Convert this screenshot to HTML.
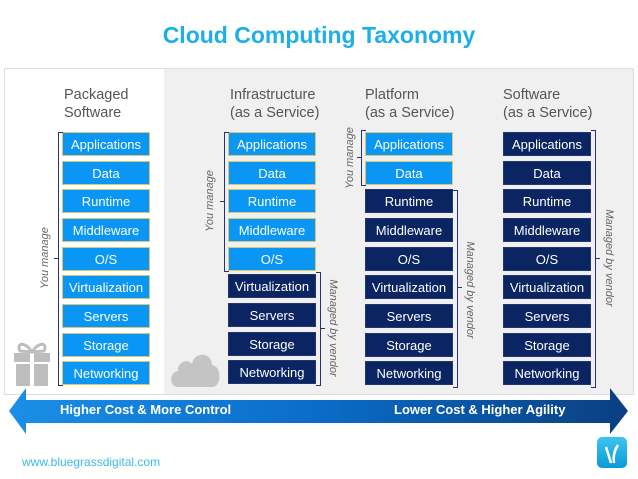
<!DOCTYPE html>
<html><head><meta charset="utf-8"><style>
body{margin:0;width:638px;height:479px;background:#fff;font-family:"Liberation Sans",sans-serif;position:relative;overflow:hidden}
.a{position:absolute}
.b{position:absolute;width:88px;height:24px;color:#fff;font-size:13px;text-align:center;line-height:24px;box-sizing:border-box}
.l{background:#0a96f4;border:1px solid #d8c870}
.d{background:#0b2462;border:1px solid #22366f}
.h{position:absolute;color:#555;font-size:14.5px;line-height:18px}
.br{position:absolute;border:1px solid #2a2f7a}
.lab{position:absolute;color:#666;font-size:11px;font-style:italic;white-space:nowrap;width:120px;text-align:center;height:14px;line-height:14px}
</style></head><body>
<div class="a" style="left:0;top:22px;width:638px;text-align:center;color:#1eaee8;font-size:23px;font-weight:bold">Cloud Computing Taxonomy</div>
<div class="a" style="left:4px;top:68px;width:628px;height:325px;border:1px solid #ddd;background:#fff"></div>
<div class="a" style="left:164px;top:69px;width:469px;height:325px;background:#f0f0f0"></div>

<div class="h" style="left:64px;top:86px">Packaged<br>Software</div>
<div class="h" style="left:230px;top:86px">Infrastructure<br>(as a Service)</div>
<div class="h" style="left:365px;top:86px">Platform<br>(as a Service)</div>
<div class="h" style="left:503px;top:86px">Software<br>(as a Service)</div>

<div id="c"></div>

<div class="br" style="left:58px;top:132px;width:4px;height:252px;border-right:none"></div>
<div class="a" style="left:54px;top:258px;width:4px;border-top:1px solid #2a2f7a"></div>
<div class="lab" style="left:-15px;top:251px;transform:rotate(-90deg)">You manage</div>

<div class="br" style="left:224px;top:132px;width:4px;height:138px;border-right:none"></div>
<div class="a" style="left:220px;top:201px;width:4px;border-top:1px solid #2a2f7a"></div>
<div class="lab" style="left:150px;top:194px;transform:rotate(-90deg)">You manage</div>
<div class="br" style="left:316px;top:272px;width:4px;height:112px;border-left:none"></div>
<div class="a" style="left:321px;top:328px;width:4px;border-top:1px solid #2a2f7a"></div>
<div class="lab" style="left:273px;top:321px;transform:rotate(90deg)">Managed by vendor</div>

<div class="br" style="left:361px;top:130px;width:4px;height:54px;border-right:none"></div>
<div class="a" style="left:357px;top:157px;width:4px;border-top:1px solid #2a2f7a"></div>
<div class="lab" style="left:290px;top:151px;transform:rotate(-90deg)">You manage</div>
<div class="br" style="left:453px;top:190px;width:4px;height:196px;border-left:none"></div>
<div class="a" style="left:458px;top:287px;width:4px;border-top:1px solid #2a2f7a"></div>
<div class="lab" style="left:410px;top:283px;transform:rotate(90deg)">Managed by vendor</div>

<div class="br" style="left:591px;top:130px;width:4px;height:256px;border-left:none"></div>
<div class="a" style="left:596px;top:258px;width:4px;border-top:1px solid #2a2f7a"></div>
<div class="lab" style="left:549px;top:251px;transform:rotate(90deg)">Managed by vendor</div>

<svg class="a" style="left:12px;top:340px" width="40" height="48" viewBox="0 0 40 48">
<g fill="#bdbdbd"><path d="M20 12 C12 0 4 4 8 11 Z M20 12 C28 0 36 4 32 11 Z" fill="none" stroke="#bdbdbd" stroke-width="3"/>
<rect x="2" y="13" width="16" height="9"/><rect x="22" y="13" width="16" height="9"/>
<rect x="4" y="24" width="14" height="22"/><rect x="22" y="24" width="14" height="22"/></g></svg>
<svg class="a" style="left:170px;top:346px" width="50" height="42" viewBox="0 0 50 42">
<path fill="#c4c4c4" d="M8 41 C-1 41 -1 26 8 25 C7 16 18 12 22 18 C24 5 42 6 42 19 C52 20 52 41 42 41 Z"/></svg>

<svg class="a" style="left:0;top:386px" width="638" height="50">
<defs><linearGradient id="g" x1="0" x2="1"><stop offset="0" stop-color="#1a8fe8"/><stop offset="0.5" stop-color="#0a6cc8"/><stop offset="1" stop-color="#0b3f80"/></linearGradient></defs>
<polygon fill="url(#g)" points="9,25 26,2 26,14 610,14 610,2 628,25 610,48 610,37 26,37 26,48"/>
</svg>
<div class="a" style="left:60px;top:402px;color:#fff;font-weight:bold;font-size:13px">Higher Cost &amp; More Control</div>
<div class="a" style="left:394px;top:402px;color:#fff;font-weight:bold;font-size:13px">Lower Cost &amp; Higher Agility</div>

<div class="a" style="left:22px;top:455px;color:#3bbbe8;font-size:12px">www.bluegrassdigital.com</div>
<div class="a" style="left:597px;top:437px;width:30px;height:31px;border-radius:5px;background:linear-gradient(#3cc4f0,#0a9ad8)"></div>
<svg class="a" style="left:597px;top:437px" width="30" height="31"><path d="M9 10 L14 26 M21 8 C17 14 16 20 17 26" stroke="#fff" stroke-width="2.5" fill="none"/></svg>

<script>
var names=["Applications","Data","Runtime","Middleware","O/S","Virtualization","Servers","Storage","Networking"];
var ys=[132,161,189,218,247,275,304,333,361];
var cols=[[62,9],[228,5],[365,2],[503,0]];
var h="";
cols.forEach(function(c){for(var i=0;i<9;i++){var y=ys[i];if(c[0]==228&&i>=5)y-=1;h+='<div class="b '+(i<c[1]?'l':'d')+'" style="left:'+c[0]+'px;top:'+y+'px">'+names[i]+'</div>';}});
document.getElementById("c").innerHTML=h;
</script>
</body></html>
